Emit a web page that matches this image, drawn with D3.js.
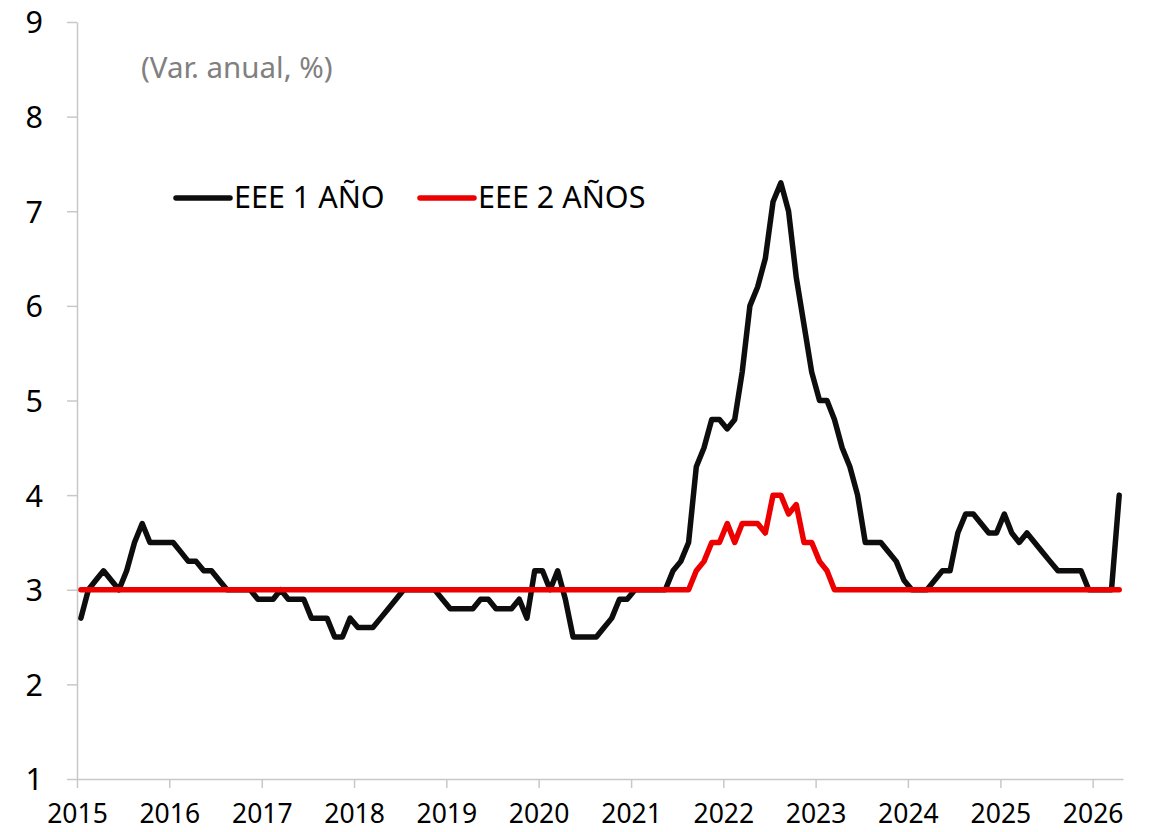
<!DOCTYPE html>
<html lang="es">
<head>
<meta charset="UTF-8">
<title>EEE</title>
<script src="https://d3js.org/d3.v7.min.js"></script>
<style>
    body { margin: 0; background: #fff; }
    svg text { font-family: "Noto Sans", sans-serif; }
</style>
</head>
<body>
<div id="chart"></div>
<script>
// monthly, Jan 2015 .. Apr 2026
var firstMonth = new Date(2015, 0, 1);
var lastMonth = new Date(2026, 3, 1);
var months = d3.timeMonth.range(firstMonth, d3.timeMonth.offset(lastMonth, 1));

var eee1 = [
    2.7, 3.0, 3.1, 3.2, 3.1, 3.0, 3.2, 3.5, 3.7, 3.5, 3.5, 3.5,   // 2015
    3.5, 3.4, 3.3, 3.3, 3.2, 3.2, 3.1, 3.0, 3.0, 3.0, 3.0, 2.9,   // 2016
    2.9, 2.9, 3.0, 2.9, 2.9, 2.9, 2.7, 2.7, 2.7, 2.5, 2.5, 2.7,   // 2017
    2.6, 2.6, 2.6, 2.7, 2.8, 2.9, 3.0, 3.0, 3.0, 3.0, 3.0, 2.9,   // 2018
    2.8, 2.8, 2.8, 2.8, 2.9, 2.9, 2.8, 2.8, 2.8, 2.9, 2.7, 3.2,   // 2019
    3.2, 3.0, 3.2, 2.9, 2.5, 2.5, 2.5, 2.5, 2.6, 2.7, 2.9, 2.9,   // 2020
    3.0, 3.0, 3.0, 3.0, 3.0, 3.2, 3.3, 3.5, 4.3, 4.5, 4.8, 4.8,   // 2021
    4.7, 4.8, 5.3, 6.0, 6.2, 6.5, 7.1, 7.3, 7.0, 6.3, 5.8, 5.3,   // 2022
    5.0, 5.0, 4.8, 4.5, 4.3, 4.0, 3.5, 3.5, 3.5, 3.4, 3.3, 3.1,   // 2023
    3.0, 3.0, 3.0, 3.1, 3.2, 3.2, 3.6, 3.8, 3.8, 3.7, 3.6, 3.6,   // 2024
    3.8, 3.6, 3.5, 3.6, 3.5, 3.4, 3.3, 3.2, 3.2, 3.2, 3.2, 3.0,   // 2025
    3.0, 3.0, 3.0, 4.0                                            // 2026
];

var eee2 = [
    3.0, 3.0, 3.0, 3.0, 3.0, 3.0, 3.0, 3.0, 3.0, 3.0, 3.0, 3.0,   // 2015
    3.0, 3.0, 3.0, 3.0, 3.0, 3.0, 3.0, 3.0, 3.0, 3.0, 3.0, 3.0,   // 2016
    3.0, 3.0, 3.0, 3.0, 3.0, 3.0, 3.0, 3.0, 3.0, 3.0, 3.0, 3.0,   // 2017
    3.0, 3.0, 3.0, 3.0, 3.0, 3.0, 3.0, 3.0, 3.0, 3.0, 3.0, 3.0,   // 2018
    3.0, 3.0, 3.0, 3.0, 3.0, 3.0, 3.0, 3.0, 3.0, 3.0, 3.0, 3.0,   // 2019
    3.0, 3.0, 3.0, 3.0, 3.0, 3.0, 3.0, 3.0, 3.0, 3.0, 3.0, 3.0,   // 2020
    3.0, 3.0, 3.0, 3.0, 3.0, 3.0, 3.0, 3.0, 3.2, 3.3, 3.5, 3.5,   // 2021
    3.7, 3.5, 3.7, 3.7, 3.7, 3.6, 4.0, 4.0, 3.8, 3.9, 3.5, 3.5,   // 2022
    3.3, 3.2, 3.0, 3.0, 3.0, 3.0, 3.0, 3.0, 3.0, 3.0, 3.0, 3.0,   // 2023
    3.0, 3.0, 3.0, 3.0, 3.0, 3.0, 3.0, 3.0, 3.0, 3.0, 3.0, 3.0,   // 2024
    3.0, 3.0, 3.0, 3.0, 3.0, 3.0, 3.0, 3.0, 3.0, 3.0, 3.0, 3.0,   // 2025
    3.0, 3.0, 3.0, 3.0                                            // 2026
];

var seriesNames = ["EEE 1 AÑO", "EEE 2 AÑOS"];
var seriesColors = ["#0d0d0d", "#ec0000"];
var yearTicks = [2015, 2016, 2017, 2018, 2019, 2020, 2021, 2022, 2023, 2024, 2025, 2026];
var yTicks = [1, 2, 3, 4, 5, 6, 7, 8, 9];
var unitLabel = "(Var. anual, %)";

var width = 1153, height = 832;
var margin = {left: 77, right: 30, top: 22, bottom: 53};
var fontFamily = '"Noto Sans", sans-serif';

var svg = d3.select("#chart").append("svg")
    .attr("width", width)
    .attr("height", height);

var x = d3.scaleTime()
    .domain([firstMonth, d3.timeMonth.offset(lastMonth, 1)])
    .range([margin.left, width - margin.right]);

var y = d3.scaleLinear()
    .domain([1, 9])
    .range([height - margin.bottom, margin.top]);

// point sits in the middle of its month
function midMonth(d) {
    var next = d3.timeMonth.offset(d, 1);
    return new Date((d.getTime() + next.getTime()) / 2);
}

var axisColor = "#c8c8c8";

var yAxis = d3.axisLeft(y)
    .tickValues(yTicks)
    .tickFormat(d3.format("d"))
    .tickSizeInner(10)
    .tickSizeOuter(0)
    .tickPadding(24);

var gy = svg.append("g")
    .attr("transform", "translate(" + margin.left + ",0)")
    .call(yAxis);

var xAxis = d3.axisBottom(x)
    .tickValues(yearTicks.map(function(yr) { return new Date(yr, 0, 1); }))
    .tickFormat(d3.timeFormat("%Y"))
    .tickSizeInner(9)
    .tickSizeOuter(0)
    .tickPadding(16);

var gx = svg.append("g")
    .attr("transform", "translate(0," + (height - margin.bottom) + ")")
    .call(xAxis);

[gx, gy].forEach(function(g) {
    g.attr("font-family", fontFamily);
    g.select(".domain").attr("stroke", axisColor).attr("stroke-width", 1.5);
    g.selectAll(".tick line").attr("stroke", axisColor).attr("stroke-width", 1.5);
    g.selectAll(".tick text").attr("fill", "#000");
});
gx.selectAll(".tick text").style("font-size", "26.5px");
gy.selectAll(".tick text").style("font-size", "30.5px").attr("dy", "0.36em");

// unit label
svg.append("text")
    .attr("x", 141)
    .attr("y", 78)
    .attr("fill", "#808080")
    .style("font-size", "29.5px")
    .text(unitLabel);

var line = d3.line()
    .x(function(d, i) { return x(midMonth(months[i])); })
    .y(function(d) { return y(d); });

[eee1, eee2].forEach(function(s, k) {
    svg.append("path")
        .datum(s)
        .attr("fill", "none")
        .attr("stroke", seriesColors[k])
        .attr("stroke-width", 5.5)
        .attr("stroke-linejoin", "round")
        .attr("stroke-linecap", "round")
        .attr("d", line);
});

// legend
var legendX = [176, 420];
seriesNames.forEach(function(name, k) {
    var g = svg.append("g").attr("transform", "translate(" + legendX[k] + ",198)");
    g.append("line")
        .attr("x1", 0).attr("x2", 54)
        .attr("stroke", seriesColors[k])
        .attr("stroke-width", 5.5)
        .attr("stroke-linecap", "round");
    g.append("text")
        .attr("x", 58)
        .attr("dy", "0.34em")
        .style("font-size", "30.5px")
        .attr("fill", "#000")
        .text(name);
});
</script>
</body>
</html>
